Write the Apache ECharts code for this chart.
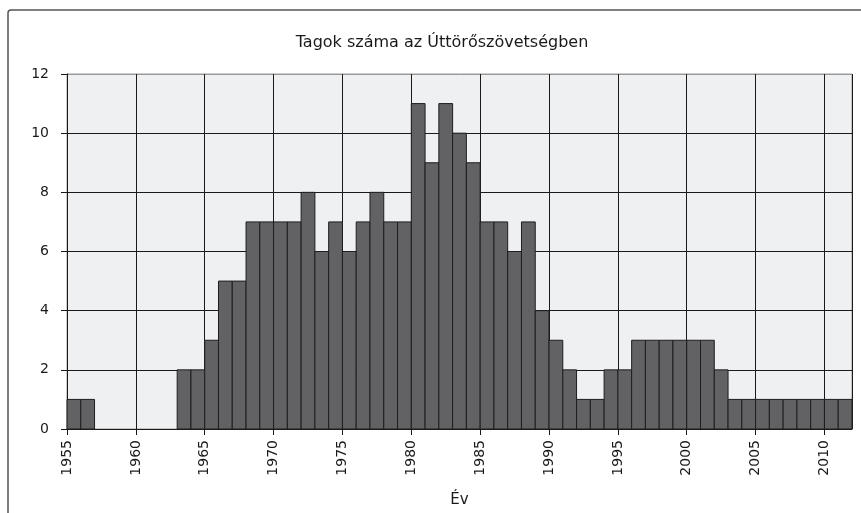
<!DOCTYPE html>
<html>
<head>
<meta charset="utf-8">
<script src="https://cdn.jsdelivr.net/npm/echarts@6/dist/echarts.min.js"></script>
<style>
html,body{margin:0;padding:0;background:#fff;}
#chart{width:861px;height:513px;}
</style>
</head>
<body>
<div id="chart"></div>
<script>
var chartTitle = 'Tagok száma az Úttörőszövetségben';
var xAxisName = 'Év';
var years = [1955,1956,1957,1958,1959,1960,1961,1962,1963,1964,
             1965,1966,1967,1968,1969,1970,1971,1972,1973,1974,
             1975,1976,1977,1978,1979,1980,1981,1982,1983,1984,
             1985,1986,1987,1988,1989,1990,1991,1992,1993,1994,
             1995,1996,1997,1998,1999,2000,2001,2002,2003,2004,
             2005,2006,2007,2008,2009,2010,2011];
var members = [1,1,0,0,0,0,0,0,2,2,
               3,5,5,7,7,7,7,8,6,7,
               6,7,8,7,7,11,9,11,10,9,
               7,7,6,7,4,3,2,1,1,2,
               2,3,3,3,3,3,3,2,1,1,
               1,1,1,1,1,1,1];
var xMin = 1955, xMax = 2012, xStep = 5;
var yMin = 0, yMax = 12, yStep = 2;

var data = years.map(function (y, i) { return [y, members[i]]; });

var chart = echarts.init(document.getElementById('chart'), null, {renderer: 'canvas'});
var font = 'DejaVu Sans, sans-serif';
chart.setOption({
  animation: false,
  backgroundColor: '#ffffff',
  graphic: [{
    type: 'rect',
    shape: {x: 8, y: 10, width: 900, height: 600, r: 3},
    style: {fill: 'none', stroke: '#555555', lineWidth: 1.5},
    silent: true, z: -1
  }],
  title: {
    text: chartTitle,
    left: 437, top: 30, textAlign: 'center',
    textStyle: {fontFamily: font, fontSize: 16, fontWeight: 'normal', color: '#1a1a1a'}
  },
  grid: {
    left: 67, top: 74, right: 9, bottom: 82,
    show: true, backgroundColor: '#eff0f2', borderColor: '#9a9a9a', borderWidth: 1
  },
  xAxis: {
    type: 'value', min: xMin, max: xMax, interval: xStep,
    name: xAxisName, nameLocation: 'middle', nameGap: 64,
    nameTextStyle: {fontFamily: font, fontSize: 15, color: '#1a1a1a'},
    axisLine: {show: true, lineStyle: {color: '#1a1a1a', width: 1}},
    axisTick: {show: true, length: 6, lineStyle: {color: '#1a1a1a'}},
    axisLabel: {rotate: 90, margin: 11, fontFamily: font, fontSize: 14, color: '#1a1a1a', showMaxLabel: false,
      formatter: function (v) { return String(v); }},
    splitLine: {show: true, lineStyle: {color: '#1a1a1a', width: 1}}
  },
  yAxis: {
    type: 'value', min: yMin, max: yMax, interval: yStep,
    axisLine: {show: true, lineStyle: {color: '#1a1a1a', width: 1}},
    axisTick: {show: true, length: 6, lineStyle: {color: '#1a1a1a'}},
    axisLabel: {margin: 18, fontFamily: font, fontSize: 14, color: '#1a1a1a'},
    splitLine: {show: true, lineStyle: {color: ['#1a1a1a','#1a1a1a','#1a1a1a','#1a1a1a','#1a1a1a','#1a1a1a','#9a9a9a'], width: 1}}
  },
  series: [{
    type: 'custom',
    data: data,
    encode: {x: 0, y: 1},
    renderItem: function (params, api) {
      var year = api.value(0), v = api.value(1);
      if (!v) return null;
      var p0 = api.coord([year, v]);
      var p1 = api.coord([year + 1, 0]);
      return {
        type: 'rect',
        shape: {x: p0[0], y: p0[1], width: p1[0] - p0[0], height: p1[1] - p0[1]},
        style: {fill: '#626265', stroke: '#1e1e1e', lineWidth: 1}
      };
    },
    z: 3
  }]
});
</script>
</body>
</html>
